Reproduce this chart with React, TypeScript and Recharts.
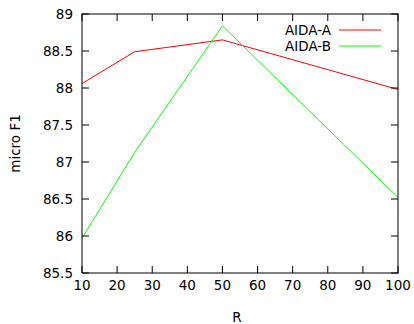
import React from "react";
import { LineChart, Line, XAxis, YAxis } from "recharts";

const rValues = [10, 25, 50, 100];
const aidaA = [88.06, 88.49, 88.65, 87.98];
const aidaB = [85.97, 87.13, 88.84, 86.52];
const xTicks = [10, 20, 30, 40, 50, 60, 70, 80, 90, 100];
const yTicks = [85.5, 86, 86.5, 87, 87.5, 88, 88.5, 89];
const seriesNames = ["AIDA-A", "AIDA-B"];
const seriesColors = ["#ff0000", "#00ff00"];

const data = rValues.map((r, i) => ({ r, a: aidaA[i], b: aidaB[i] }));

const FONT = "DejaVu Sans";
const FS = 13.5;
const TL = 7;
const M = { top: 14, right: 16, left: 0, bottom: 0 };
const W = 414;
const H = 324;
const PLOT_TOP = M.top;
const PLOT_RIGHT = W - M.right;
const PLOT_LEFT = 82;
const PLOT_BOTTOM = H - 51;
const INK = "#000000";

const BottomTick = (p: any) => (
  <g>
    <rect x={p.x - 0.5} y={p.y - TL} width={1} height={TL} fill={INK} />
    <rect x={p.x - 0.5} y={PLOT_TOP} width={1} height={TL} fill={INK} />
    {p.index === 0 && (
      <rect x={PLOT_LEFT - 0.5} y={PLOT_TOP - 0.5} width={PLOT_RIGHT - PLOT_LEFT + 1} height={1} fill={INK} />
    )}
    <text x={p.x} y={p.y + 17} textAnchor="middle" fontFamily={FONT} fontSize={FS} fill="#000">
      {p.payload.value}
    </text>
  </g>
);
const LeftTick = (p: any) => (
  <g>
    <rect x={p.x} y={p.y - 0.5} width={TL} height={1} fill={INK} />
    <rect x={PLOT_RIGHT - TL} y={p.y - 0.5} width={TL} height={1} fill={INK} />
    {p.index === 0 && (
      <rect x={PLOT_RIGHT - 0.5} y={PLOT_TOP - 0.5} width={1} height={PLOT_BOTTOM - PLOT_TOP + 1} fill={INK} />
    )}
    <text x={p.x - 9} y={p.y} dy="0.35em" textAnchor="end" fontFamily={FONT} fontSize={FS} fill="#000">
      {p.payload.value}
    </text>
  </g>
);

const LegendBox = () => (
  <svg width={144} height={40} style={{ display: "block" }}>
    {seriesNames.map((n, i) => (
      <g key={n}>
        <text x={91} y={8 + i * 16} dy="0.35em" textAnchor="end" fontFamily={FONT} fontSize={FS} fill="#000">
          {n}
        </text>
        <line x1={99} y1={8 + i * 16} x2={141} y2={8 + i * 16} stroke={seriesColors[i]} strokeWidth={1} />
      </g>
    ))}
  </svg>
);

export default function App() {
  return (
    <div style={{ position: "absolute", left: 0, top: 0, width: W, height: H, background: "#fff" }}>
      <LineChart width={W} height={H} data={data} margin={M}>
        <XAxis
          dataKey="r"
          type="number"
          domain={[10, 100]}
          ticks={xTicks}
          height={51}
          tickSize={0}
          tickMargin={0}
          tick={<BottomTick />}
          axisLine={{ stroke: INK, strokeWidth: 1 }}
          interval={0}
        />
        <YAxis
          type="number"
          domain={[85.5, 89]}
          ticks={yTicks}
          width={82}
          tickSize={0}
          tickMargin={0}
          tick={<LeftTick />}
          axisLine={{ stroke: INK, strokeWidth: 1 }}
          interval={0}
          label={{ value: "micro F1", angle: -90, position: "insideLeft", offset: 15, style: { fontFamily: FONT, fontSize: FS, fill: "#000", textAnchor: "middle" } }}
        />
        <Line dataKey="a" name={seriesNames[0]} stroke={seriesColors[0]} strokeWidth={1} dot={false} isAnimationActive={false} />
        <Line dataKey="b" name={seriesNames[1]} stroke={seriesColors[1]} strokeWidth={1} dot={false} isAnimationActive={false} />
      </LineChart>
      <div style={{ position: "absolute", left: 240, top: 22 }}>
        <LegendBox />
      </div>
      <div style={{ position: "absolute", left: 0, top: 309, width: 474, textAlign: "center", fontFamily: FONT, fontSize: FS, lineHeight: "16px" }}>
        R
      </div>
    </div>
  );
}
